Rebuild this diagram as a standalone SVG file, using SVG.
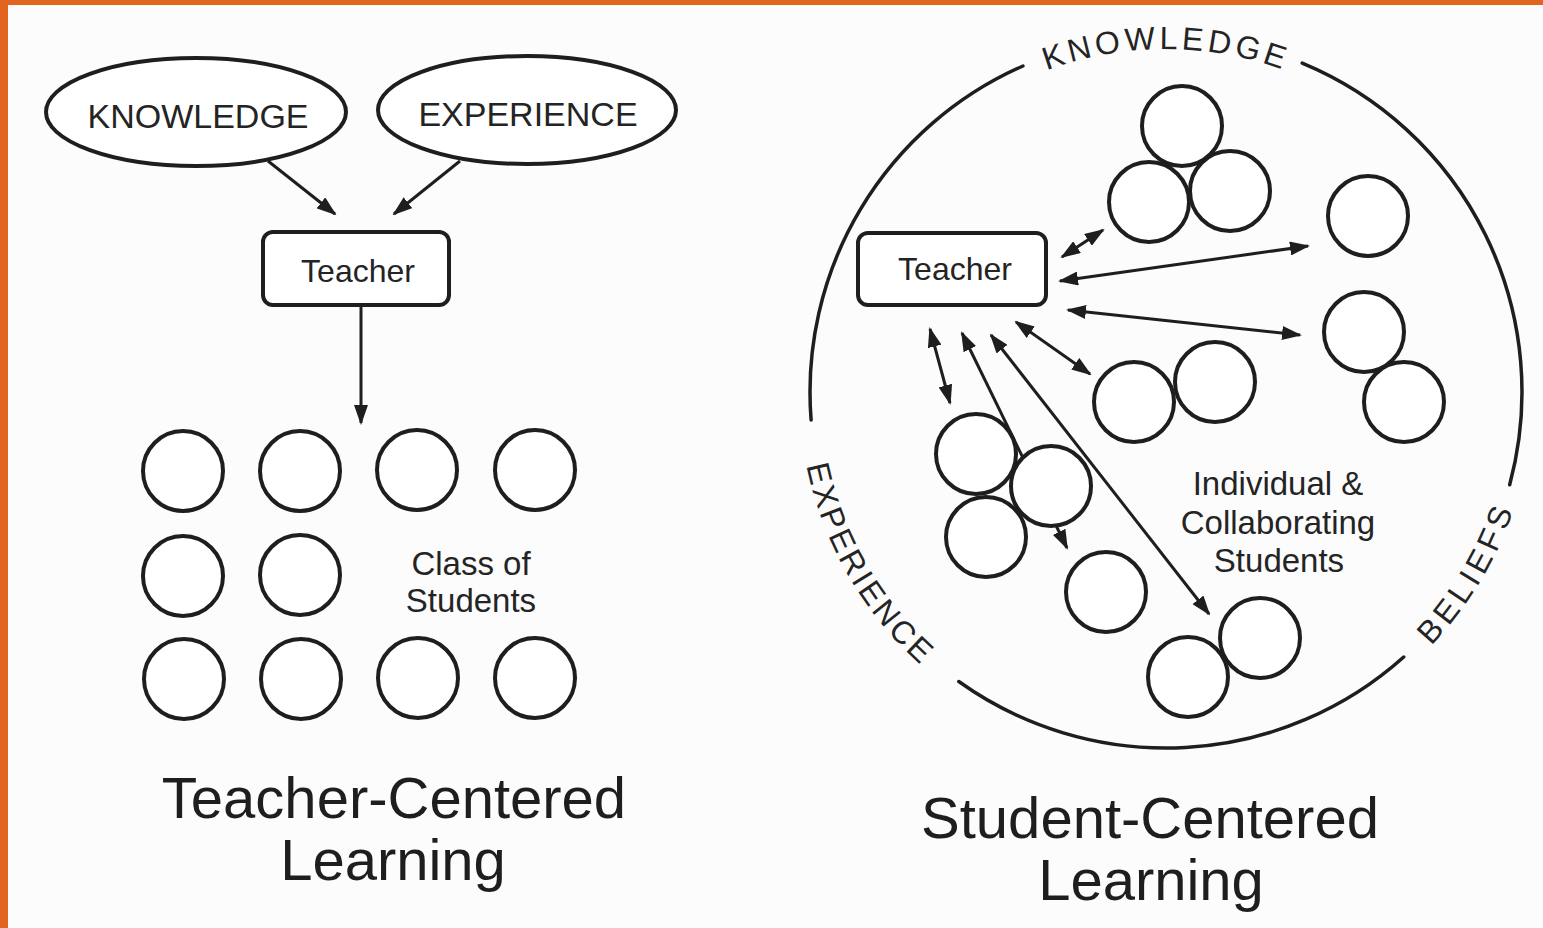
<svg xmlns="http://www.w3.org/2000/svg" width="1543" height="928" viewBox="0 0 1543 928">
<style>
.bg{fill:#fcfcfc}
.frame{fill:#e2651f}
.st{fill:#fff;stroke:#1e1e1e;stroke-width:4}
.ring{fill:none;stroke:#1e1e1e;stroke-width:3.5;stroke-linecap:round}
.ln{fill:none;stroke:#1e1e1e;stroke-width:3}
.lbl{font-family:"Liberation Sans",Arial,sans-serif;fill:#242424;text-anchor:middle}
.box{font-size:32px}
.cap{font-size:34px}
.note{font-size:33px}
.title{font-size:58px;fill:#1e1e1e}
.arc{font-family:"Liberation Sans",Arial,sans-serif;fill:#242424;font-size:32px}
</style>
<defs>
<marker id="ah" viewBox="0 0 20 14" refX="18" refY="7" markerWidth="20" markerHeight="14" markerUnits="userSpaceOnUse" orient="auto-start-reverse">
<path d="M0,0 L20,7 L0,14 z" fill="#1e1e1e"/>
</marker>
<path id="pK" d="M869,220.5 A343,343 0 0 1 1463,220.5"/>
<path id="pE" d="M804.6,328.3 A367,367 0 0 0 1040.5,736.9"/>
<path id="pB" d="M1285.5,739 A367,367 0 0 0 1528.5,334.6"/>
</defs>
<rect class="bg" x="0" y="0" width="1543" height="928"/>
<rect class="frame" x="0" y="0" width="1543" height="5"/>
<rect class="frame" x="0" y="0" width="8" height="928"/>

<g id="connectors">
<line class="ln" x1="268" y1="161" x2="335" y2="214" marker-end="url(#ah)"/>
<line class="ln" x1="460" y1="161" x2="394" y2="214" marker-end="url(#ah)"/>
<line class="ln" x1="361" y1="306" x2="361" y2="423" marker-end="url(#ah)"/>
<line class="ln" x1="1062" y1="257" x2="1103" y2="230" marker-start="url(#ah)" marker-end="url(#ah)"/>
<line class="ln" x1="1060" y1="281" x2="1308" y2="246" marker-start="url(#ah)" marker-end="url(#ah)"/>
<line class="ln" x1="1068" y1="310" x2="1300" y2="335" marker-start="url(#ah)" marker-end="url(#ah)"/>
<line class="ln" x1="1016" y1="322" x2="1090" y2="374" marker-start="url(#ah)" marker-end="url(#ah)"/>
<line class="ln" x1="930" y1="329" x2="950" y2="403" marker-start="url(#ah)" marker-end="url(#ah)"/>
<line class="ln" x1="962" y1="333" x2="1067" y2="548" marker-start="url(#ah)" marker-end="url(#ah)"/>
<line class="ln" x1="991" y1="335" x2="1209" y2="614" marker-start="url(#ah)" marker-end="url(#ah)"/>
</g>

<g id="left-knowledge">
<ellipse class="st" cx="196" cy="112" rx="150" ry="54"/>
<text class="lbl cap" x="198" y="128">KNOWLEDGE</text>
</g>
<g id="left-experience">
<ellipse class="st" cx="527" cy="110" rx="149" ry="54"/>
<text class="lbl cap" x="528" y="126">EXPERIENCE</text>
</g>
<g id="left-teacher">
<rect class="st" x="263" y="232" width="186" height="73" rx="10"/>
<text class="lbl box" x="358" y="282">Teacher</text>
</g>
<g id="class-of-students">
<circle class="st" cx="183" cy="471" r="40"/>
<circle class="st" cx="300" cy="471" r="40"/>
<circle class="st" cx="417" cy="470" r="40"/>
<circle class="st" cx="535" cy="470" r="40"/>
<circle class="st" cx="183" cy="576" r="40"/>
<circle class="st" cx="300" cy="575" r="40"/>
<circle class="st" cx="184" cy="679" r="40"/>
<circle class="st" cx="301" cy="679" r="40"/>
<circle class="st" cx="418" cy="678" r="40"/>
<circle class="st" cx="535" cy="678" r="40"/>
<text class="lbl note" x="471" y="575">Class of</text>
<text class="lbl note" x="471" y="612">Students</text>
</g>
<g id="left-title">
<text class="lbl title" x="394" y="818">Teacher-Centered</text>
<text class="lbl title" x="393" y="880">Learning</text>
</g>

<g id="context-ring">
<path class="ring" d="M1302.2,63.1 A356,356 0 0 1 1509.7,484.7"/>
<path class="ring" d="M1403.7,657 A356,356 0 0 1 958.8,681.5"/>
<path class="ring" d="M811.1,419.9 A356,356 0 0 1 1022.9,66"/>
<text class="arc" letter-spacing="4"><textPath href="#pK" startOffset="50%" text-anchor="middle">KNOWLEDGE</textPath></text>
<text class="arc" letter-spacing="3"><textPath href="#pE" startOffset="50%" text-anchor="middle">EXPERIENCE</textPath></text>
<text class="arc" letter-spacing="4.5"><textPath href="#pB" startOffset="50%" text-anchor="middle">BELIEFS</textPath></text>
</g>
<g id="right-teacher">
<rect class="st" x="858" y="233" width="188" height="72" rx="10"/>
<text class="lbl box" x="955" y="280">Teacher</text>
</g>
<g id="group-three">
<circle class="st" cx="1182" cy="126" r="40"/>
<circle class="st" cx="1149" cy="202" r="40"/>
<circle class="st" cx="1230" cy="191" r="40"/>
</g>
<g id="single-right">
<circle class="st" cx="1368" cy="216" r="40"/>
</g>
<g id="pair-right">
<circle class="st" cx="1364" cy="332" r="40"/>
<circle class="st" cx="1404" cy="402" r="40"/>
</g>
<g id="pair-middle">
<circle class="st" cx="1134" cy="402" r="40"/>
<circle class="st" cx="1215" cy="382" r="40"/>
</g>
<g id="group-three-left">
<circle class="st" cx="976" cy="454" r="40"/>
<circle class="st" cx="1051" cy="486" r="40"/>
<circle class="st" cx="986" cy="537" r="40"/>
</g>
<g id="single-lower">
<circle class="st" cx="1106" cy="592" r="40"/>
</g>
<g id="pair-bottom">
<circle class="st" cx="1260" cy="638" r="40"/>
<circle class="st" cx="1188" cy="677" r="40"/>
</g>
<g id="students-label">
<text class="lbl note" x="1278" y="495">Individual &amp;</text>
<text class="lbl note" x="1278" y="534">Collaborating</text>
<text class="lbl note" x="1279" y="572">Students</text>
</g>
<g id="right-title">
<text class="lbl title" x="1150" y="838">Student-Centered</text>
<text class="lbl title" x="1151" y="900">Learning</text>
</g>
</svg>
